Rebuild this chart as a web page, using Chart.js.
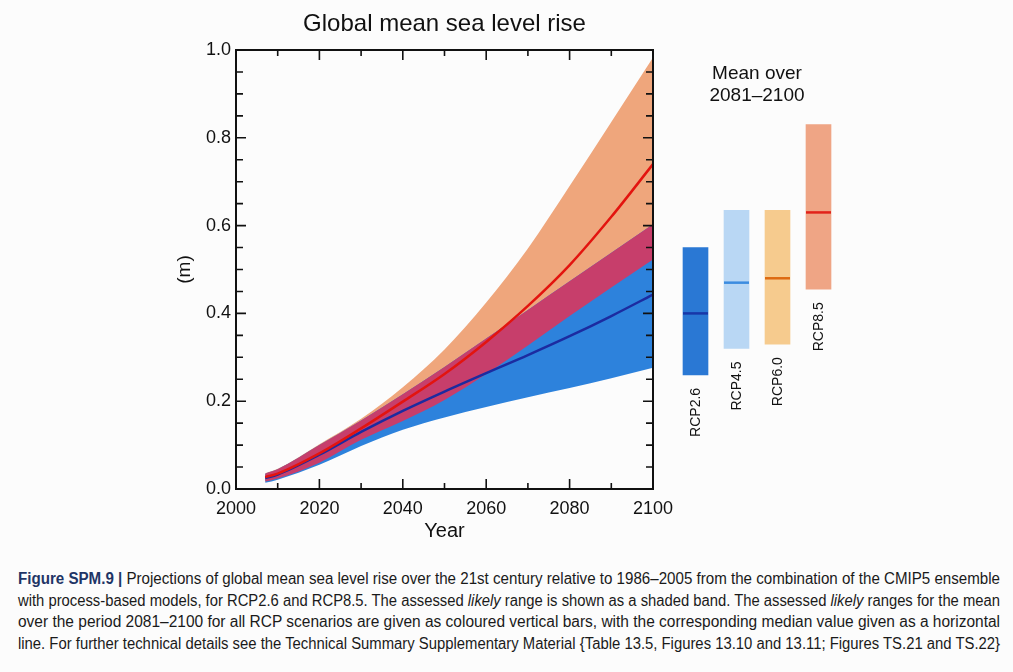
<!DOCTYPE html>
<html>
<head>
<meta charset="utf-8">
<script src="https://cdn.jsdelivr.net/npm/chart.js@4.4.1/dist/chart.umd.min.js"></script>
<style>
  html, body { margin: 0; padding: 0; background: #fcfcfc; }
  body { width: 1013px; height: 672px; position: relative; overflow: hidden; font-family: "Liberation Sans", Arial, sans-serif; }
  #main { position: absolute; left: 0; top: 0; }
  #bars { position: absolute; left: 660px; top: 0; }
  #mean-title { position: absolute; left: 657px; width: 200px; top: 62px; text-align: center; font-size: 19px; line-height: 22px; color: #111; }
  #caption { position: absolute; left: 18px; top: 568px; width: 982px; color: #1a1a1a; }
  .cap-line { white-space: nowrap; height: 21.6px; line-height: 21.6px; font-size: 16px; }
  .cap-line span { display: inline-block; transform-origin: 0 50%; }
  .cap-line b { color: #1f3566; }
</style>
</head>
<body>
<canvas id="main" width="890" height="560"></canvas>
<canvas id="bars" width="194" height="560"></canvas>
<div id="mean-title">Mean over<br>2081–2100</div>
<div id="caption">
  <div class="cap-line"><span><b>Figure SPM.9 |</b> Projections of global mean sea level rise over the 21st century relative to 1986–2005 from the combination of the CMIP5 ensemble</span></div>
  <div class="cap-line"><span>with process-based models, for RCP2.6 and RCP8.5. The assessed <i>likely</i> range is shown as a shaded band. The assessed <i>likely</i> ranges for the mean</span></div>
  <div class="cap-line"><span>over the period 2081–2100 for all RCP scenarios are given as coloured vertical bars, with the corresponding median value given as a horizontal</span></div>
  <div class="cap-line"><span>line. For further technical details see the Technical Summary Supplementary Material {Table 13.5, Figures 13.10 and 13.11; Figures TS.21 and TS.22}</span></div>
</div>
<script>
const chartTitle = "Global mean sea level rise";

// time series (m)
const years = [2007, 2010, 2020, 2030, 2040, 2050, 2060, 2070, 2080, 2090, 2100];
const rcp85High = [0.036, 0.046, 0.102, 0.160, 0.232, 0.318, 0.425, 0.548, 0.690, 0.836, 0.983];
const rcp85Median = [0.027, 0.035, 0.081, 0.138, 0.199, 0.262, 0.335, 0.417, 0.510, 0.620, 0.740];
const rcp85Low = [0.017, 0.024, 0.060, 0.112, 0.155, 0.203, 0.262, 0.327, 0.394, 0.459, 0.523];
const rcp26High = [0.035, 0.045, 0.100, 0.156, 0.216, 0.278, 0.343, 0.408, 0.473, 0.538, 0.603];
const rcp26Median = [0.025, 0.033, 0.078, 0.130, 0.178, 0.222, 0.264, 0.305, 0.348, 0.394, 0.443];
const rcp26Low = [0.014, 0.021, 0.055, 0.098, 0.135, 0.163, 0.187, 0.209, 0.230, 0.252, 0.276];

// mean over 2081-2100
const scenarios = ["RCP2.6", "RCP4.5", "RCP6.0", "RCP8.5"];
const barLow = [0.26, 0.32, 0.33, 0.455];
const barHigh = [0.55, 0.635, 0.635, 0.83];
const barMedian = [0.40, 0.47, 0.48, 0.63];

const barColors = ["#2a78d4", "#b9d7f4", "#f6cb8e", "#efa585"];
const medianColors = ["#1837a8", "#3c8ce0", "#dd6a12", "#e2231a"];

Chart.defaults.font.family = '"Liberation Sans", Arial, sans-serif';
Chart.defaults.color = "#111";

function series(values) {
  return years.map((yr, i) => ({ x: yr, y: values[i] }));
}

function band(values, extra) {
  return Object.assign({
    data: series(values),
    borderWidth: 0,
    borderColor: "rgba(0,0,0,0)",
    pointRadius: 0,
    fill: false,
  }, extra);
}

const framePlugin = {
  id: "frame",
  afterDraw(chart) {
    const { ctx, chartArea: a, scales: { x, y } } = chart;
    ctx.save();
    ctx.strokeStyle = "#111";
    ctx.lineWidth = 2;
    ctx.strokeRect(a.left, a.top, a.right - a.left, a.bottom - a.top);
    ctx.lineWidth = 1.6;
    ctx.beginPath();
    for (let yr = 2000; yr <= 2100; yr += 10) {
      const px = x.getPixelForValue(yr);
      const len = yr % 20 === 0 ? 10 : 6;
      ctx.moveTo(px, a.bottom);
      ctx.lineTo(px, a.bottom - len);
      ctx.moveTo(px, a.top);
      ctx.lineTo(px, a.top + len);
    }
    for (let i = 0; i <= 20; i++) {
      const py = y.getPixelForValue(i * 0.05);
      const len = i % 4 === 0 ? 10 : 7;
      ctx.moveTo(a.left, py);
      ctx.lineTo(a.left + len, py);
      ctx.moveTo(a.right, py);
      ctx.lineTo(a.right - len, py);
    }
    ctx.stroke();
    ctx.fillStyle = "#111";
    ctx.font = '24px "Liberation Sans", Arial, sans-serif';
    ctx.textAlign = "center";
    ctx.textBaseline = "middle";
    ctx.fillText(chartTitle, (a.left + a.right) / 2, 24);
    ctx.restore();
  },
};

new Chart(document.getElementById("main"), {
  type: "line",
  data: {
    datasets: [
      band(rcp85High, { fill: { target: 1 }, backgroundColor: "#efa67c", order: 5 }),
      band(rcp85Low, { order: 5 }),
      band(rcp26High, { fill: { target: 3 }, backgroundColor: "#2d82dc", order: 4 }),
      band(rcp26Low, { order: 4 }),
      band(rcp26High, { fill: { target: 1 }, backgroundColor: "#c73e6b", order: 3 }),
      { data: series(rcp26Median), borderColor: "#1c2ba0", borderWidth: 2.5, pointRadius: 0, fill: false, order: 2 },
      { data: series(rcp85Median), borderColor: "#e3140f", borderWidth: 2.5, pointRadius: 0, fill: false, order: 1 },
    ],
  },
  options: {
    responsive: false,
    animation: false,
    events: [],
    layout: { padding: { left: 173, right: 237, top: 50, bottom: 17 } },
    elements: { line: { cubicInterpolationMode: "monotone" } },
    plugins: { legend: { display: false }, tooltip: { enabled: false } },
    scales: {
      x: {
        type: "linear",
        min: 2000,
        max: 2100,
        grid: { display: false, drawTicks: false },
        border: { display: false },
        ticks: { stepSize: 20, padding: 9, font: { size: 18 }, callback: (v) => String(v) },
        title: { display: true, text: "Year", font: { size: 20 }, padding: 0 },
        afterFit: (s) => { s.height = 54; },
      },
      y: {
        min: 0,
        max: 1,
        grid: { display: false, drawTicks: false },
        border: { display: false },
        ticks: { stepSize: 0.2, padding: 5, font: { size: 18 }, callback: (v) => v.toFixed(1) },
        title: { display: true, text: "(m)", font: { size: 19 }, padding: 0 },
        afterFit: (s) => { s.width = 63; },
      },
    },
  },
  plugins: [framePlugin],
});

const rcpLabels = {
  id: "rcpLabels",
  afterDraw(chart) {
    const { ctx } = chart;
    const bars = chart.getDatasetMeta(1).data;
    ctx.save();
    ctx.fillStyle = "#111";
    ctx.font = '14px "Liberation Sans", Arial, sans-serif';
    ctx.textAlign = "right";
    ctx.textBaseline = "middle";
    bars.forEach((el, i) => {
      ctx.save();
      ctx.translate(el.x + 1, Math.max(el.base, el.y) + 13);
      ctx.rotate(-Math.PI / 2);
      ctx.fillText(chart.data.labels[i], 0, 0);
      ctx.restore();
    });
    ctx.restore();
  },
};

new Chart(document.getElementById("bars"), {
  type: "bar",
  data: {
    labels: scenarios,
    datasets: [
      {
        type: "line",
        data: barMedian,
        showLine: false,
        pointStyle: "line",
        pointRadius: 12.5,
        pointBorderWidth: 2.5,
        pointBorderColor: medianColors,
        order: 0,
      },
      {
        type: "bar",
        data: scenarios.map((s, i) => [barLow[i], barHigh[i]]),
        backgroundColor: barColors,
        barThickness: 25,
        order: 1,
      },
    ],
  },
  options: {
    responsive: false,
    animation: false,
    events: [],
    layout: { padding: { left: 13.7, right: 13.6, top: 50, bottom: 71 } },
    plugins: { legend: { display: false }, tooltip: { enabled: false } },
    scales: {
      x: { display: false },
      y: { display: false, min: 0, max: 1 },
    },
  },
  plugins: [rcpLabels],
});

// squeeze each caption line to the column width, like the condensed print face
document.querySelectorAll(".cap-line span").forEach((el) => {
  const w = el.getBoundingClientRect().width;
  el.style.transform = "scaleX(" + (982 / w) + ")";
});
</script>
</body>
</html>
